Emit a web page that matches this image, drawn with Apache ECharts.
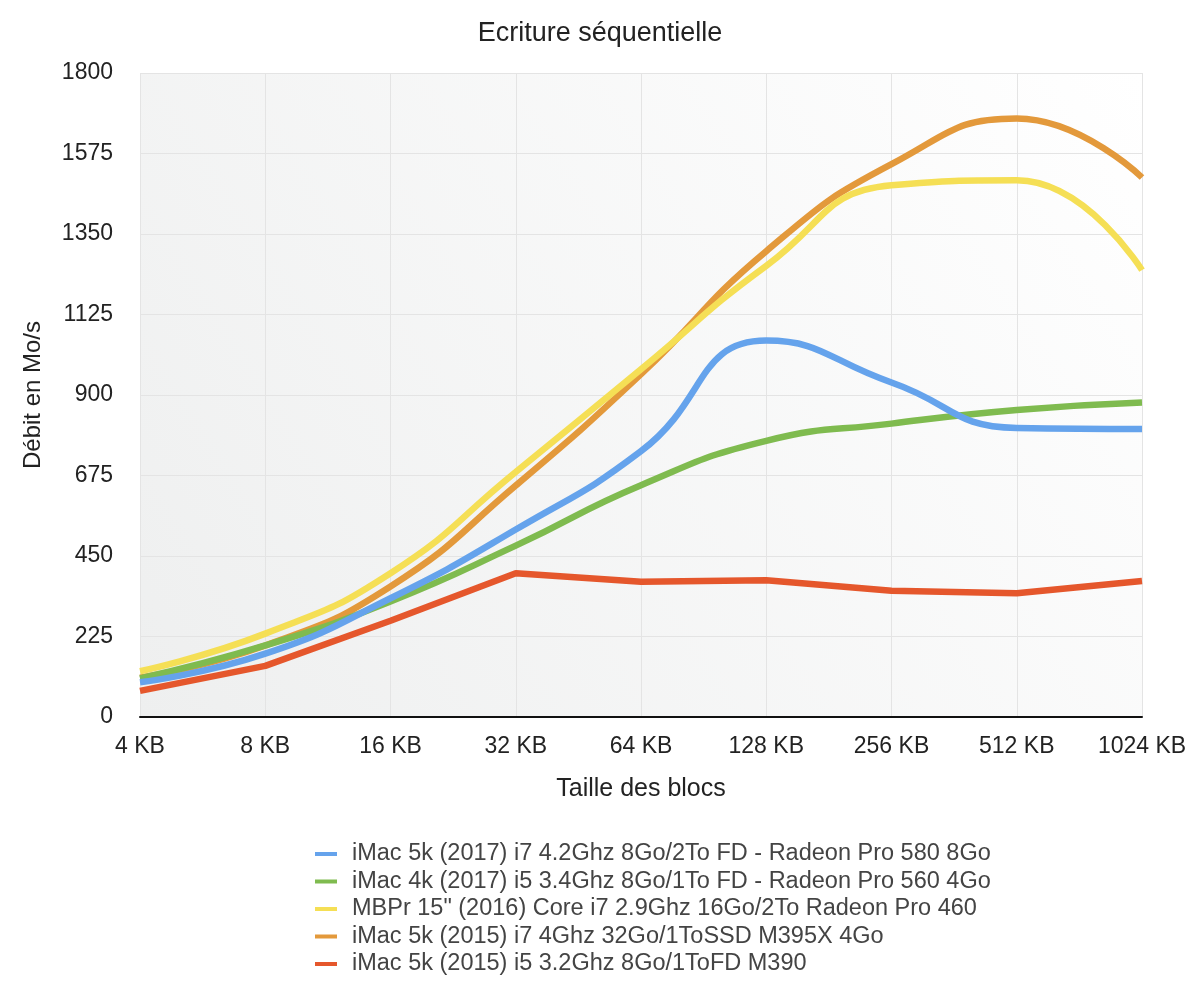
<!DOCTYPE html>
<html>
<head>
<meta charset="utf-8">
<script src="https://cdn.jsdelivr.net/npm/echarts@6/dist/echarts.min.js"></script>
<style>
html,body{margin:0;padding:0;background:#fff;}
#c{width:1200px;height:988px;}
</style>
</head>
<body>
<div id="c"></div>
<script>
var categories = ['4 KB','8 KB','16 KB','32 KB','64 KB','128 KB','256 KB','512 KB','1024 KB'];
var yTicks = [0,225,450,675,900,1125,1350,1575,1800];
var names = [
  'iMac 5k (2017) i7 4.2Ghz 8Go/2To FD - Radeon Pro 580 8Go',
  'iMac 4k (2017) i5 3.4Ghz 8Go/1To FD - Radeon Pro 560 4Go',
  'MBPr 15" (2016) Core i7 2.9Ghz 16Go/2To Radeon Pro 460',
  'iMac 5k (2015) i7 4Ghz 32Go/1ToSSD M395X 4Go',
  'iMac 5k (2015) i5 3.2Ghz 8Go/1ToFD M390'
];
var blue   = [97, 177, 332, 524, 743, 1052, 935, 808, 805];
var green  = [108, 200, 323, 479, 648, 772, 820, 858, 879];
var yellow = [128, 233, 402, 685, 972, 1261, 1486, 1500, 1249];
var orange = [110, 200, 365, 647, 958, 1302, 1545, 1673, 1508];
var red    = [73, 143, 269, 402, 378, 382, 353, 346, 380];
var colors = ['#65a3ec','#7fbb4f','#f5df55','#e3993b','#e5572c'];
var seriesData = [blue, green, yellow, orange, red];
var smoothFlags = [0.5, 0.5, 0.5, 0.5, false];

var FONT = 'Liberation Sans';
var chart = echarts.init(document.getElementById('c'));
chart.setOption({
  animation: false,
  textStyle: {fontFamily: FONT},
  title: {
    text: 'Ecriture séquentielle',
    left: 'center', top: 15,
    textStyle: {fontFamily: FONT, fontSize: 27, fontWeight: 'normal', color: '#222'}
  },
  color: colors,
  legend: {
    orient: 'vertical',
    left: 310, top: 837,
    itemGap: 3.5,
    itemWidth: 22, itemHeight: 4,
    icon: 'rect',
    data: names,
    textStyle: {fontFamily: FONT, fontSize: 23.5, color: '#444', padding: [0, 0, 0, 10]}
  },
  grid: {
    left: 140, right: 58, top: 73, bottom: 271,
    show: true, borderWidth: 0,
    backgroundColor: new echarts.graphic.LinearGradient(0, 1, 1, 0, [
      {offset: 0, color: '#eeefef'},
      {offset: 1, color: '#ffffff'}
    ])
  },
  xAxis: {
    type: 'category',
    data: categories,
    boundaryGap: false,
    name: 'Taille des blocs',
    nameLocation: 'middle',
    nameGap: 60,
    nameTextStyle: {fontFamily: FONT, fontSize: 25, color: '#222'},
    axisLine: {show: true, lineStyle: {color: '#111', width: 2}},
    axisTick: {show: false},
    axisLabel: {fontFamily: FONT, fontSize: 23, color: '#222', margin: 18},
    splitLine: {show: true, lineStyle: {color: '#e4e4e4', width: 1}}
  },
  yAxis: {
    type: 'value',
    min: 0, max: 1800, interval: 225,
    name: 'Débit en Mo/s',
    nameLocation: 'middle',
    nameGap: 95,
    nameTextStyle: {fontFamily: FONT, fontSize: 24, color: '#222'},
    axisLine: {show: false},
    axisTick: {show: false},
    axisLabel: {fontFamily: FONT, fontSize: 23, color: '#222', margin: 27,
      formatter: function(v){ return yTicks.indexOf(v) >= 0 ? String(v) : ''; }},
    splitLine: {show: true, lineStyle: {color: '#e4e4e4', width: 1}}
  },
  series: names.map(function(n, i){
    return {
      name: n, type: 'line',
      data: seriesData[i],
      smooth: smoothFlags[i],
      showSymbol: false, symbol: 'none',
      lineStyle: {width: 6.5, color: colors[i]},
      itemStyle: {color: colors[i]},
      z: 10 - i
    };
  })
});
</script>
</body>
</html>
